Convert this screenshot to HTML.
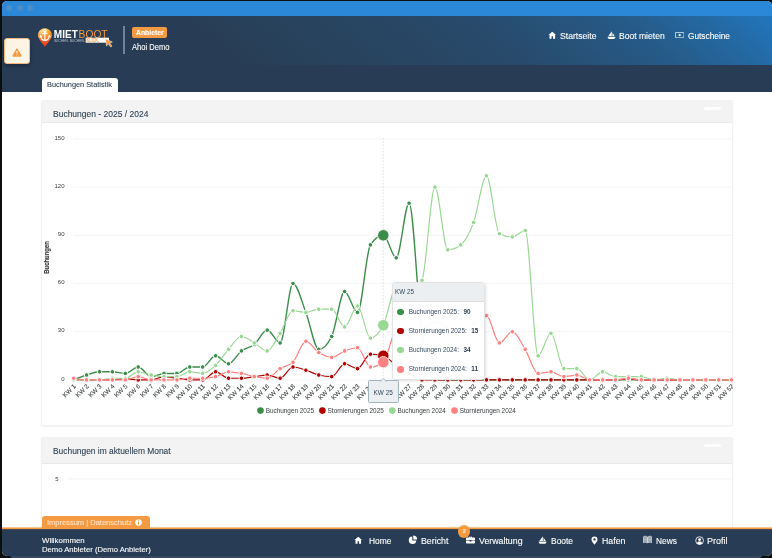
<!DOCTYPE html>
<html lang="de">
<head>
<meta charset="utf-8">
<title>Mietboot - Buchungen Statistik</title>
<style>
*{box-sizing:border-box;margin:0;padding:0}
html,body{width:772px;height:558px;overflow:hidden;background:#0d0e10}
body{font-family:"Liberation Sans",sans-serif;color:#2c3e50;position:relative}
.win{position:absolute;left:2px;top:1px;width:769.600px;height:555px;border-radius:5px;overflow:hidden;background:#fff;will-change:transform}
.abs{position:absolute}
.titlebar{left:0;top:0;width:770px;height:15px;background:#2b87d8}
.tl{width:6px;height:6px;border-radius:50%;background:#4a8fcb;top:4px}
.hdr{left:0;top:15px;width:770px;height:49px;background:linear-gradient(40deg,#283d55 0%,#283d55 28.7%,#28415a 36.7%,#284a6b 62.9%,#265a87 81%,#24679f 90.5%,#2274ba 99.2%)}
.strip{left:0;top:64px;width:770px;height:26.500px;background:#283d55}
  .tab{left:40px;top:77px;width:76px;height:14.600px;background:#fff;border-radius:3px 3px 0 0;font-size:7.4px;line-height:15px;text-align:center;color:#2c3e50;white-space:nowrap}
.txt{white-space:nowrap;line-height:1;-webkit-text-stroke:.1px currentColor}
.nav{color:#fff;font-size:8.4px}
.panel{left:39.400px;width:691.600px;background:#fff;border:1px solid #f2f2f2;border-radius:2px;box-shadow:0 1px 2px rgba(0,0,0,.05)}
.phead{left:0;top:0;width:690px;background:#f3f3f3;border-bottom:1px solid #e9e9e9}
.ptitle{font-size:9.3px;color:#2c3e50;left:11px}
.pill{width:17px;height:2.800px;border-radius:2px;background:#fff;left:661.700px}
.footer{left:0;top:527px;width:770px;height:29px;background:#283d55}
.fnav{color:#fff;font-size:8.6px}
svg text{font-family:"Liberation Sans",sans-serif}
.yl{font-size:6px;fill:#373d3f}
.yt{font-size:6.4px;font-weight:bold;fill:#373d3f;stroke:#373d3f;stroke-width:.15px}
.xl{font-size:6.4px;fill:#373d3f;stroke:#373d3f;stroke-width:.08px}
.lg{font-size:6.4px;fill:#373d3f}
  .tt{left:389.5px;top:280.900px;width:93.8px;height:98.200px;background:rgba(255,255,255,.96);border:1px solid #e3e3e3;border-radius:3px;box-shadow:1px 1px 4px -2px rgba(120,120,120,.6);overflow:hidden}
.tthead{left:0;top:0;width:94px;height:19px;background:#eceff1;border-bottom:1px solid #ddd;font-size:6.3px;line-height:18.600px;padding-left:2.500px;color:#34495e}
.ttrow{left:0;width:93px;height:7px;font-size:6.4px;color:#34495e}
.ttdot{left:4.900px;top:0;width:6.600px;height:6.600px;border-radius:50%}
.ttrow span{position:absolute;left:16.300px;top:0;line-height:6.600px;white-space:nowrap}
.ttrow b{margin-left:2.800px;color:#2c3e50}
.xtt{left:365.600px;top:379.400px;width:31.200px;height:22.400px;background:#eceff1;border:.8px solid #a3b3bc;border-radius:1.500px;font-size:6.400px;line-height:23.200px;text-align:center;color:#34495e}
</style>
</head>
<body>
<div class="abs" style="left:10px;top:555px;width:752px;height:3px;background:#34485e;border-radius:0 0 3px 3px"></div>
<div class="win">
  <div class="abs titlebar"></div>
  <div class="abs tl" style="left:4px"></div><div class="abs tl" style="left:15px"></div><div class="abs tl" style="left:25px"></div>

  <div class="abs hdr"></div>
  <div class="abs strip"></div>

  <!-- logo -->
  <svg class="abs" style="left:34px;top:22px" width="82" height="30" viewBox="0 0 82 30">
    <defs>
      <linearGradient id="lg1" x1="0" y1="0" x2="0" y2="1"><stop offset="0" stop-color="#fbb520"/><stop offset="0.45" stop-color="#f6861f"/><stop offset="0.8" stop-color="#ea4a26"/><stop offset="1" stop-color="#df2a2a"/></linearGradient>
      <radialGradient id="lg2" cx="0.32" cy="0.25" r="0.5"><stop offset="0" stop-color="#fff" stop-opacity=".55"/><stop offset="1" stop-color="#fff" stop-opacity="0"/></radialGradient>
    </defs>
    <path d="M8.9 24 L3.27 16.35 A7 7 0 1 1 14.53 16.35 Z" fill="url(#lg1)"/>
    <circle cx="8.9" cy="12.2" r="7" fill="url(#lg2)"/>
    <g stroke="#fff" stroke-width="1.15" fill="none" stroke-linecap="round" stroke-linejoin="round"><circle cx="8.9" cy="7.4" r="1.15"/><path d="M8.9 8.700V17.300M6.700 10.300h4.400M4.500 12.800c.5 2.900 2.300 4.500 4.400 4.500s3.900-1.600 4.400-4.500"/><path d="M3.500 14l1-1.600 1.300 1.300M14.300 14l-1-1.600-1.300 1.300" stroke-width=".9"/></g>
    <text x="17.8" y="14.600" font-size="11" font-weight="bold" fill="#fff" textLength="24" lengthAdjust="spacingAndGlyphs">MIET</text>
    <text x="42.600" y="14.600" font-size="11" fill="#f39a42" textLength="29" lengthAdjust="spacingAndGlyphs">BOOT</text>
    <text x="17.900" y="18.900" font-size="3.700" fill="#b9c4cf" textLength="30.900" lengthAdjust="spacingAndGlyphs">SUCHEN. BUCHEN.</text>
    <rect x="49.700" y="14.700" width="23.300" height="5" fill="#fff"/>
    <text x="50.500" y="19" font-size="5" font-weight="bold" fill="#f39a42" textLength="12.600" lengthAdjust="spacingAndGlyphs">KLICK.</text>
    <path d="M69.400 15.800l7 3.300-2.700.9 2.300 3.100-1.300 1-2.300-3.100-1.900 2.100z" fill="#f39a42" stroke="#fff" stroke-width=".45" stroke-linejoin="round"/>
  </svg>
  <div class="abs" style="left:121.200px;top:24.800px;width:1.400px;height:28px;background:#71839a"></div>
  <div class="abs" style="left:130px;top:26px;width:35px;height:11px;background:#f39a42;border-radius:2px"></div>
  <div class="abs txt" style="left:133.50px;top:28.40px;font-size:7.2px;color:#fff;font-weight:bold;transform:scaleX(0.9488);transform-origin:0 50%">Anbieter</div>
  <div class="abs txt" style="left:130.10px;top:42.00px;font-size:8.4px;color:#fff;transform:scaleX(0.9052);transform-origin:0 50%">Ahoi Demo</div>

  <!-- top nav -->
  <svg class="abs" style="left:545.600px;top:29.500px" width="8.600" height="8.600" viewBox="0 0 16 16"><path d="M8 1.2L.8 7.6h2V14.6h3.8V10h2.8v4.6h3.8V7.6h2z" fill="#fff"/></svg>
  <div class="abs txt" style="left:557.80px;top:31.00px;font-size:8.4px;color:#fff;transform:scaleX(1.0313);transform-origin:0 50%">Startseite</div>
  <svg class="abs" style="left:604.700px;top:29.900px" width="9" height="8.300" viewBox="0 0 18 17" preserveAspectRatio="none"><path d="M9.500.4V11H2.400zM10.800 3l4.900 8h-4.900zM.8 12.300h16.400l-2.600 4H3.400z" fill="#fff"/></svg>
  <div class="abs txt" style="left:617.20px;top:31.00px;font-size:8.4px;color:#fff;transform:scaleX(1.0220);transform-origin:0 50%">Boot mieten</div>
  <svg class="abs" style="left:673px;top:31px" width="9.400" height="6.200" viewBox="0 0 19 12.500"><rect x=".8" y=".8" width="17.400" height="10.900" rx="1.200" fill="none" stroke="#fff" stroke-width="1.500"/><circle cx="9.500" cy="6.250" r="2.300" fill="#fff"/></svg>
  <div class="abs txt" style="left:685.80px;top:31.00px;font-size:8.4px;color:#fff;transform:scaleX(0.9905);transform-origin:0 50%">Gutscheine</div>

  <!-- warning button -->
  <div class="abs" style="left:2.4px;top:37px;width:25.5px;height:25.5px;background:#fcf4e5;border:1px solid #f4b77d;border-radius:3px;box-shadow:0 2px 5px rgba(0,0,0,.32)"></div>
  <svg class="abs" style="left:10.400px;top:46.500px" width="10" height="9" viewBox="0 0 20 18"><path d="M10 1.2c.8 0 1.4.4 1.8 1.1l7 12.2c.8 1.4-.2 2.9-1.8 2.9H3c-1.600 0-2.600-1.500-1.800-2.900l7-12.200c.4-.7 1-1.100 1.800-1.100z" fill="#f39a42"/><rect x="9" y="5.600" width="2" height="6" rx=".8" fill="#fcf4e5"/><circle cx="10" cy="14" r="1.200" fill="#fcf4e5"/></svg>

  <div class="abs tab"></div>
  <div class="abs txt" style="left:45.20px;top:80.00px;font-size:7.6px;color:#2c3e50;transform:scaleX(0.9669);transform-origin:0 50%">Buchungen Statistik</div>

  <!-- panel 1 -->
  <div class="abs panel" style="top:99px;height:326px">
    <div class="abs phead" style="height:22px"></div>
    <div class="abs pill" style="top:6.200px"></div>
  </div>
  <!-- panel 2 -->
  <div class="abs panel" style="top:436px;height:120px">
    <div class="abs phead" style="height:25.800px"></div>
    <div class="abs pill" style="top:6.400px"></div>
  </div>

  <div class="abs txt" style="left:50.50px;top:108.50px;font-size:9px;color:#2c3e50;transform:scaleX(0.9439);transform-origin:0 50%">Buchungen - 2025 / 2024</div>
  <div class="abs txt" style="left:51.00px;top:445.50px;font-size:9px;color:#2c3e50;transform:scaleX(0.9327);transform-origin:0 50%">Buchungen im aktuellem Monat</div>
  <!-- chart svg in window coordinates shifted: svg placed so that its coords == page coords -->
  <svg class="abs" style="left:-2px;top:-1px" width="733" height="530" viewBox="0 0 733 530">
<line x1="73.5" x2="733" y1="138.95" y2="138.95" stroke="#f0f0f0" stroke-width="0.7"/>
<line x1="73.5" x2="733" y1="187.13" y2="187.13" stroke="#f0f0f0" stroke-width="0.7"/>
<line x1="73.5" x2="733" y1="235.31" y2="235.31" stroke="#f0f0f0" stroke-width="0.7"/>
<line x1="73.5" x2="733" y1="283.49" y2="283.49" stroke="#f0f0f0" stroke-width="0.7"/>
<line x1="73.5" x2="733" y1="331.67" y2="331.67" stroke="#f0f0f0" stroke-width="0.7"/>
<line x1="73.5" x2="733" y1="379.85" y2="379.85" stroke="#f0f0f0" stroke-width="0.7"/>
<line x1="383.3" x2="383.3" y1="138" y2="380" stroke="#cccccc" stroke-width="0.6" stroke-dasharray="1.6 1.6"/>
<text x="64.5" y="139.6" text-anchor="end" class="yl">150</text>
<text x="64.5" y="187.7" text-anchor="end" class="yl">120</text>
<text x="64.5" y="235.9" text-anchor="end" class="yl">90</text>
<text x="64.5" y="284.1" text-anchor="end" class="yl">60</text>
<text x="64.5" y="332.3" text-anchor="end" class="yl">30</text>
<text x="64.5" y="380.5" text-anchor="end" class="yl">0</text>
<text transform="translate(49.1 257.4) rotate(-90)" text-anchor="middle" class="yt" textLength="32.6" lengthAdjust="spacingAndGlyphs">Buchungen</text>
<text transform="translate(76.3 386.8) rotate(-45)" text-anchor="end" class="xl">KW 1</text>
<text transform="translate(89.2 386.8) rotate(-45)" text-anchor="end" class="xl">KW 2</text>
<text transform="translate(102.1 386.8) rotate(-45)" text-anchor="end" class="xl">KW 3</text>
<text transform="translate(115.0 386.8) rotate(-45)" text-anchor="end" class="xl">KW 4</text>
<text transform="translate(127.9 386.8) rotate(-45)" text-anchor="end" class="xl">KW 5</text>
<text transform="translate(140.8 386.8) rotate(-45)" text-anchor="end" class="xl">KW 6</text>
<text transform="translate(153.7 386.8) rotate(-45)" text-anchor="end" class="xl">KW 7</text>
<text transform="translate(166.6 386.8) rotate(-45)" text-anchor="end" class="xl">KW 8</text>
<text transform="translate(179.5 386.8) rotate(-45)" text-anchor="end" class="xl">KW 9</text>
<text transform="translate(192.4 386.8) rotate(-45)" text-anchor="end" class="xl">KW 10</text>
<text transform="translate(205.3 386.8) rotate(-45)" text-anchor="end" class="xl">KW 11</text>
<text transform="translate(218.2 386.8) rotate(-45)" text-anchor="end" class="xl">KW 12</text>
<text transform="translate(231.1 386.8) rotate(-45)" text-anchor="end" class="xl">KW 13</text>
<text transform="translate(244.0 386.8) rotate(-45)" text-anchor="end" class="xl">KW 14</text>
<text transform="translate(256.9 386.8) rotate(-45)" text-anchor="end" class="xl">KW 15</text>
<text transform="translate(269.8 386.8) rotate(-45)" text-anchor="end" class="xl">KW 16</text>
<text transform="translate(282.7 386.8) rotate(-45)" text-anchor="end" class="xl">KW 17</text>
<text transform="translate(295.6 386.8) rotate(-45)" text-anchor="end" class="xl">KW 18</text>
<text transform="translate(308.5 386.8) rotate(-45)" text-anchor="end" class="xl">KW 19</text>
<text transform="translate(321.4 386.8) rotate(-45)" text-anchor="end" class="xl">KW 20</text>
<text transform="translate(334.3 386.8) rotate(-45)" text-anchor="end" class="xl">KW 21</text>
<text transform="translate(347.2 386.8) rotate(-45)" text-anchor="end" class="xl">KW 22</text>
<text transform="translate(360.1 386.8) rotate(-45)" text-anchor="end" class="xl">KW 23</text>
<text transform="translate(373.0 386.8) rotate(-45)" text-anchor="end" class="xl">KW 24</text>
<text transform="translate(385.9 386.8) rotate(-45)" text-anchor="end" class="xl">KW 25</text>
<text transform="translate(398.8 386.8) rotate(-45)" text-anchor="end" class="xl">KW 26</text>
<text transform="translate(411.7 386.8) rotate(-45)" text-anchor="end" class="xl">KW 27</text>
<text transform="translate(424.6 386.8) rotate(-45)" text-anchor="end" class="xl">KW 28</text>
<text transform="translate(437.5 386.8) rotate(-45)" text-anchor="end" class="xl">KW 29</text>
<text transform="translate(450.4 386.8) rotate(-45)" text-anchor="end" class="xl">KW 30</text>
<text transform="translate(463.3 386.8) rotate(-45)" text-anchor="end" class="xl">KW 31</text>
<text transform="translate(476.2 386.8) rotate(-45)" text-anchor="end" class="xl">KW 32</text>
<text transform="translate(489.1 386.8) rotate(-45)" text-anchor="end" class="xl">KW 33</text>
<text transform="translate(502.0 386.8) rotate(-45)" text-anchor="end" class="xl">KW 34</text>
<text transform="translate(514.9 386.8) rotate(-45)" text-anchor="end" class="xl">KW 35</text>
<text transform="translate(527.8 386.8) rotate(-45)" text-anchor="end" class="xl">KW 36</text>
<text transform="translate(540.7 386.8) rotate(-45)" text-anchor="end" class="xl">KW 37</text>
<text transform="translate(553.6 386.8) rotate(-45)" text-anchor="end" class="xl">KW 38</text>
<text transform="translate(566.5 386.8) rotate(-45)" text-anchor="end" class="xl">KW 39</text>
<text transform="translate(579.4 386.8) rotate(-45)" text-anchor="end" class="xl">KW 40</text>
<text transform="translate(592.3 386.8) rotate(-45)" text-anchor="end" class="xl">KW 41</text>
<text transform="translate(605.2 386.8) rotate(-45)" text-anchor="end" class="xl">KW 42</text>
<text transform="translate(618.1 386.8) rotate(-45)" text-anchor="end" class="xl">KW 43</text>
<text transform="translate(631.0 386.8) rotate(-45)" text-anchor="end" class="xl">KW 44</text>
<text transform="translate(643.9 386.8) rotate(-45)" text-anchor="end" class="xl">KW 45</text>
<text transform="translate(656.8 386.8) rotate(-45)" text-anchor="end" class="xl">KW 46</text>
<text transform="translate(669.7 386.8) rotate(-45)" text-anchor="end" class="xl">KW 47</text>
<text transform="translate(682.6 386.8) rotate(-45)" text-anchor="end" class="xl">KW 48</text>
<text transform="translate(695.5 386.8) rotate(-45)" text-anchor="end" class="xl">KW 49</text>
<text transform="translate(708.4 386.8) rotate(-45)" text-anchor="end" class="xl">KW 50</text>
<text transform="translate(721.3 386.8) rotate(-45)" text-anchor="end" class="xl">KW 51</text>
<text transform="translate(734.2 386.8) rotate(-45)" text-anchor="end" class="xl">KW 52</text>
<path d="M73.70 379.85C78.00 378.11 82.30 376.37 86.60 375.03C90.90 373.69 95.20 371.82 99.50 371.82C103.80 371.82 108.10 371.82 112.40 371.82C116.70 371.82 121.00 373.43 125.30 373.43C129.60 373.43 133.90 367.00 138.20 367.00C142.50 367.00 146.80 376.64 151.10 376.64C155.40 376.64 159.70 373.43 164.00 373.43C168.30 373.43 172.60 373.43 176.90 373.43C181.20 373.43 185.50 367.00 189.80 367.00C194.10 367.00 198.40 367.00 202.70 367.00C207.00 367.00 211.30 355.76 215.60 355.76C219.90 355.76 224.20 363.79 228.50 363.79C232.80 363.79 237.10 354.15 241.40 350.94C245.70 347.73 250.00 348.00 254.30 344.52C258.60 341.04 262.90 330.06 267.20 330.06C271.50 330.06 275.80 342.91 280.10 342.91C284.40 342.91 288.70 283.49 293.00 283.49C297.30 283.49 301.60 301.42 305.90 312.40C310.20 323.37 314.50 349.34 318.80 349.34C323.10 349.34 327.40 345.05 331.70 336.49C336.00 327.92 340.30 291.52 344.60 291.52C348.90 291.52 353.20 312.40 357.50 312.40C361.80 312.40 366.10 251.37 370.40 244.95C374.70 238.52 379.00 235.31 383.30 235.31C387.60 235.31 391.90 257.79 396.20 257.79C400.50 257.79 404.80 203.19 409.10 203.19C413.40 203.19 417.70 305.44 422.00 334.88C426.30 364.33 430.60 379.85 434.90 379.85C439.20 379.85 443.50 379.85 447.80 379.85C452.10 379.85 456.40 379.85 460.70 379.85C465.00 379.85 469.30 379.85 473.60 379.85C477.90 379.85 482.20 379.85 486.50 379.85C490.80 379.85 495.10 379.85 499.40 379.85C503.70 379.85 508.00 379.85 512.30 379.85C516.60 379.85 520.90 379.85 525.20 379.85C529.50 379.85 533.80 379.85 538.10 379.85C542.40 379.85 546.70 379.85 551.00 379.85C555.30 379.85 559.60 379.85 563.90 379.85C568.20 379.85 572.50 379.85 576.80 379.85C581.10 379.85 585.40 379.85 589.70 379.85C594.00 379.85 598.30 379.85 602.60 379.85C606.90 379.85 611.20 379.85 615.50 379.85C619.80 379.85 624.10 379.85 628.40 379.85C632.70 379.85 637.00 379.85 641.30 379.85C645.60 379.85 649.90 379.85 654.20 379.85C658.50 379.85 662.80 379.85 667.10 379.85C671.40 379.85 675.70 379.85 680.00 379.85C684.30 379.85 688.60 379.85 692.90 379.85C697.20 379.85 701.50 379.85 705.80 379.85C710.10 379.85 714.40 379.85 718.70 379.85C723.00 379.85 727.30 379.85 731.60 379.85" fill="none" stroke="#3c8d4a" stroke-width="1.40" stroke-linecap="butt"/>
<path d="M73.70 379.85C78.00 379.85 82.30 379.85 86.60 379.85C90.90 379.85 95.20 379.85 99.50 379.85C103.80 379.85 108.10 379.85 112.40 379.85C116.70 379.85 121.00 378.89 125.30 378.89C129.60 378.89 133.90 379.85 138.20 379.85C142.50 379.85 146.80 379.85 151.10 379.85C155.40 379.85 159.70 376.64 164.00 376.64C168.30 376.64 172.60 377.71 176.90 378.24C181.20 378.78 185.50 379.85 189.80 379.85C194.10 379.85 198.40 379.85 202.70 379.85C207.00 379.85 211.30 371.82 215.60 371.82C219.90 371.82 224.20 378.24 228.50 378.24C232.80 378.24 237.10 378.24 241.40 378.24C245.70 378.24 250.00 377.17 254.30 376.64C258.60 376.10 262.90 375.03 267.20 375.03C271.50 375.03 275.80 378.24 280.10 378.24C284.40 378.24 288.70 367.00 293.00 367.00C297.30 367.00 301.60 368.88 305.90 370.21C310.20 371.55 314.50 373.96 318.80 375.03C323.10 376.10 327.40 376.64 331.70 376.64C336.00 376.64 340.30 363.79 344.60 363.79C348.90 363.79 353.20 368.61 357.50 368.61C361.80 368.61 366.10 354.15 370.40 354.15C374.70 354.15 379.00 354.69 383.30 355.76C387.60 356.83 391.90 362.45 396.20 365.40C400.50 368.34 404.80 371.02 409.10 373.43C413.40 375.84 417.70 379.85 422.00 379.85C426.30 379.85 430.60 379.85 434.90 379.85C439.20 379.85 443.50 379.85 447.80 379.85C452.10 379.85 456.40 379.85 460.70 379.85C465.00 379.85 469.30 379.85 473.60 379.85C477.90 379.85 482.20 379.85 486.50 379.85C490.80 379.85 495.10 379.85 499.40 379.85C503.70 379.85 508.00 379.85 512.30 379.85C516.60 379.85 520.90 379.85 525.20 379.85C529.50 379.85 533.80 379.85 538.10 379.85C542.40 379.85 546.70 379.85 551.00 379.85C555.30 379.85 559.60 379.85 563.90 379.85C568.20 379.85 572.50 379.85 576.80 379.85C581.10 379.85 585.40 379.85 589.70 379.85C594.00 379.85 598.30 379.85 602.60 379.85C606.90 379.85 611.20 379.85 615.50 379.85C619.80 379.85 624.10 378.73 628.40 378.73C632.70 378.73 637.00 379.85 641.30 379.85C645.60 379.85 649.90 379.85 654.20 379.85C658.50 379.85 662.80 379.85 667.10 379.85C671.40 379.85 675.70 379.85 680.00 379.85C684.30 379.85 688.60 379.85 692.90 379.85C697.20 379.85 701.50 379.85 705.80 379.85C710.10 379.85 714.40 379.85 718.70 379.85C723.00 379.85 727.30 379.85 731.60 379.85" fill="none" stroke="#b00000" stroke-width="1.20" stroke-linecap="butt"/>
<path d="M73.70 379.85C78.00 379.85 82.30 379.85 86.60 379.85C90.90 379.85 95.20 379.85 99.50 379.85C103.80 379.85 108.10 378.24 112.40 378.24C116.70 378.24 121.00 378.24 125.30 378.24C129.60 378.24 133.90 371.82 138.20 371.82C142.50 371.82 146.80 374.23 151.10 375.03C155.40 375.84 159.70 376.64 164.00 376.64C168.30 376.64 172.60 376.64 176.90 376.64C181.20 376.64 185.50 371.82 189.80 371.82C194.10 371.82 198.40 373.43 202.70 373.43C207.00 373.43 211.30 369.41 215.60 365.40C219.90 361.38 224.20 354.15 228.50 349.34C232.80 344.52 237.10 336.49 241.40 336.49C245.70 336.49 250.00 340.50 254.30 342.91C258.60 345.32 262.90 350.94 267.20 350.94C271.50 350.94 275.80 339.97 280.10 333.28C284.40 326.58 288.70 310.79 293.00 310.79C297.30 310.79 301.60 312.40 305.90 312.40C310.20 312.40 314.50 309.19 318.80 309.19C323.10 309.19 327.40 309.19 331.70 309.19C336.00 309.19 340.30 326.85 344.60 326.85C348.90 326.85 353.20 305.97 357.50 305.97C361.80 305.97 366.10 338.09 370.40 338.09C374.70 338.09 379.00 333.54 383.30 325.25C387.60 316.95 391.90 288.31 396.20 288.31C400.50 288.31 404.80 293.13 409.10 293.13C413.40 293.13 417.70 288.84 422.00 280.28C426.30 271.71 430.60 187.13 434.90 187.13C439.20 187.13 443.50 249.76 447.80 249.76C452.10 249.76 456.40 248.16 460.70 244.95C465.00 241.73 469.30 233.97 473.60 222.46C477.90 210.95 482.20 175.89 486.50 175.89C490.80 175.89 495.10 231.56 499.40 233.70C503.70 235.85 508.00 236.92 512.30 236.92C516.60 236.92 520.90 230.49 525.20 230.49C529.50 230.49 533.80 355.76 538.10 355.76C542.40 355.76 546.70 333.28 551.00 333.28C555.30 333.28 559.60 368.61 563.90 368.61C568.20 368.61 572.50 368.61 576.80 368.61C581.10 368.61 585.40 379.85 589.70 379.85C594.00 379.85 598.30 371.82 602.60 371.82C606.90 371.82 611.20 376.64 615.50 376.64C619.80 376.64 624.10 376.64 628.40 376.64C632.70 376.64 637.00 376.64 641.30 376.64C645.60 376.64 649.90 379.85 654.20 379.85C658.50 379.85 662.80 378.24 667.10 378.24C671.40 378.24 675.70 379.85 680.00 379.85C684.30 379.85 688.60 379.85 692.90 379.85C697.20 379.85 701.50 379.85 705.80 379.85C710.10 379.85 714.40 379.85 718.70 379.85C723.00 379.85 727.30 379.85 731.60 379.85" fill="none" stroke="#98d892" stroke-width="1.15" stroke-linecap="butt"/>
<path d="M73.70 378.24C78.00 379.05 82.30 379.85 86.60 379.85C90.90 379.85 95.20 379.85 99.50 379.85C103.80 379.85 108.10 379.85 112.40 379.85C116.70 379.85 121.00 379.85 125.30 379.85C129.60 379.85 133.90 376.64 138.20 376.64C142.50 376.64 146.80 379.85 151.10 379.85C155.40 379.85 159.70 379.85 164.00 379.85C168.30 379.85 172.60 379.85 176.90 379.85C181.20 379.85 185.50 378.24 189.80 378.24C194.10 378.24 198.40 378.24 202.70 378.24C207.00 378.24 211.30 377.71 215.60 376.64C219.90 375.57 224.20 371.82 228.50 371.82C232.80 371.82 237.10 372.62 241.40 373.43C245.70 374.23 250.00 375.84 254.30 376.64C258.60 377.44 262.90 378.24 267.20 378.24C271.50 378.24 275.80 371.28 280.10 368.61C284.40 365.93 288.70 366.47 293.00 362.18C297.30 357.90 301.60 341.31 305.90 341.31C310.20 341.31 314.50 349.87 318.80 352.55C323.10 355.22 327.40 357.37 331.70 357.37C336.00 357.37 340.30 352.55 344.60 350.94C348.90 349.34 353.20 347.73 357.50 347.73C361.80 347.73 366.10 367.00 370.40 367.00C374.70 367.00 379.00 365.40 383.30 362.18C387.60 358.97 391.90 331.67 396.20 331.67C400.50 331.67 404.80 338.09 409.10 338.09C413.40 338.09 417.70 332.74 422.00 330.06C426.30 327.39 430.60 322.03 434.90 322.03C439.20 322.03 443.50 325.25 447.80 326.85C452.10 328.46 456.40 331.67 460.70 331.67C465.00 331.67 469.30 326.32 473.60 323.64C477.90 320.96 482.20 315.61 486.50 315.61C490.80 315.61 495.10 342.91 499.40 342.91C503.70 342.91 508.00 331.67 512.30 331.67C516.60 331.67 520.90 342.38 525.20 349.34C529.50 356.30 533.80 373.43 538.10 373.43C542.40 373.43 546.70 371.82 551.00 371.82C555.30 371.82 559.60 376.64 563.90 376.64C568.20 376.64 572.50 375.03 576.80 375.03C581.10 375.03 585.40 379.85 589.70 379.85C594.00 379.85 598.30 379.85 602.60 379.85C606.90 379.85 611.20 379.85 615.50 379.85C619.80 379.85 624.10 378.24 628.40 378.24C632.70 378.24 637.00 379.85 641.30 379.85C645.60 379.85 649.90 379.85 654.20 379.85C658.50 379.85 662.80 379.85 667.10 379.85C671.40 379.85 675.70 379.85 680.00 379.85C684.30 379.85 688.60 379.85 692.90 379.85C697.20 379.85 701.50 379.85 705.80 379.85C710.10 379.85 714.40 379.85 718.70 379.85C723.00 379.85 727.30 379.85 731.60 379.85" fill="none" stroke="#ff8080" stroke-width="1.20" stroke-linecap="butt"/>
<circle cx="73.7" cy="379.9" r="2.30" fill="#3c8d4a" stroke="#fff" stroke-width="1.0"/>
<circle cx="86.6" cy="375.0" r="2.30" fill="#3c8d4a" stroke="#fff" stroke-width="1.0"/>
<circle cx="99.5" cy="371.8" r="2.30" fill="#3c8d4a" stroke="#fff" stroke-width="1.0"/>
<circle cx="112.4" cy="371.8" r="2.30" fill="#3c8d4a" stroke="#fff" stroke-width="1.0"/>
<circle cx="125.3" cy="373.4" r="2.30" fill="#3c8d4a" stroke="#fff" stroke-width="1.0"/>
<circle cx="138.2" cy="367.0" r="2.30" fill="#3c8d4a" stroke="#fff" stroke-width="1.0"/>
<circle cx="151.1" cy="376.6" r="2.30" fill="#3c8d4a" stroke="#fff" stroke-width="1.0"/>
<circle cx="164.0" cy="373.4" r="2.30" fill="#3c8d4a" stroke="#fff" stroke-width="1.0"/>
<circle cx="176.9" cy="373.4" r="2.30" fill="#3c8d4a" stroke="#fff" stroke-width="1.0"/>
<circle cx="189.8" cy="367.0" r="2.30" fill="#3c8d4a" stroke="#fff" stroke-width="1.0"/>
<circle cx="202.7" cy="367.0" r="2.30" fill="#3c8d4a" stroke="#fff" stroke-width="1.0"/>
<circle cx="215.6" cy="355.8" r="2.30" fill="#3c8d4a" stroke="#fff" stroke-width="1.0"/>
<circle cx="228.5" cy="363.8" r="2.30" fill="#3c8d4a" stroke="#fff" stroke-width="1.0"/>
<circle cx="241.4" cy="350.9" r="2.30" fill="#3c8d4a" stroke="#fff" stroke-width="1.0"/>
<circle cx="254.3" cy="344.5" r="2.30" fill="#3c8d4a" stroke="#fff" stroke-width="1.0"/>
<circle cx="267.2" cy="330.1" r="2.30" fill="#3c8d4a" stroke="#fff" stroke-width="1.0"/>
<circle cx="280.1" cy="342.9" r="2.30" fill="#3c8d4a" stroke="#fff" stroke-width="1.0"/>
<circle cx="293.0" cy="283.5" r="2.30" fill="#3c8d4a" stroke="#fff" stroke-width="1.0"/>
<circle cx="305.9" cy="312.4" r="2.30" fill="#3c8d4a" stroke="#fff" stroke-width="1.0"/>
<circle cx="318.8" cy="349.3" r="2.30" fill="#3c8d4a" stroke="#fff" stroke-width="1.0"/>
<circle cx="331.7" cy="336.5" r="2.30" fill="#3c8d4a" stroke="#fff" stroke-width="1.0"/>
<circle cx="344.6" cy="291.5" r="2.30" fill="#3c8d4a" stroke="#fff" stroke-width="1.0"/>
<circle cx="357.5" cy="312.4" r="2.30" fill="#3c8d4a" stroke="#fff" stroke-width="1.0"/>
<circle cx="370.4" cy="244.9" r="2.30" fill="#3c8d4a" stroke="#fff" stroke-width="1.0"/>
<circle cx="383.3" cy="235.3" r="5.70" fill="#3c8d4a" stroke="#fff" stroke-width="0.8"/>
<circle cx="396.2" cy="257.8" r="2.30" fill="#3c8d4a" stroke="#fff" stroke-width="1.0"/>
<circle cx="409.1" cy="203.2" r="2.30" fill="#3c8d4a" stroke="#fff" stroke-width="1.0"/>
<circle cx="422.0" cy="334.9" r="2.30" fill="#3c8d4a" stroke="#fff" stroke-width="1.0"/>
<circle cx="434.9" cy="379.9" r="2.30" fill="#3c8d4a" stroke="#fff" stroke-width="1.0"/>
<circle cx="447.8" cy="379.9" r="2.30" fill="#3c8d4a" stroke="#fff" stroke-width="1.0"/>
<circle cx="460.7" cy="379.9" r="2.30" fill="#3c8d4a" stroke="#fff" stroke-width="1.0"/>
<circle cx="473.6" cy="379.9" r="2.30" fill="#3c8d4a" stroke="#fff" stroke-width="1.0"/>
<circle cx="486.5" cy="379.9" r="2.30" fill="#3c8d4a" stroke="#fff" stroke-width="1.0"/>
<circle cx="499.4" cy="379.9" r="2.30" fill="#3c8d4a" stroke="#fff" stroke-width="1.0"/>
<circle cx="512.3" cy="379.9" r="2.30" fill="#3c8d4a" stroke="#fff" stroke-width="1.0"/>
<circle cx="525.2" cy="379.9" r="2.30" fill="#3c8d4a" stroke="#fff" stroke-width="1.0"/>
<circle cx="538.1" cy="379.9" r="2.30" fill="#3c8d4a" stroke="#fff" stroke-width="1.0"/>
<circle cx="551.0" cy="379.9" r="2.30" fill="#3c8d4a" stroke="#fff" stroke-width="1.0"/>
<circle cx="563.9" cy="379.9" r="2.30" fill="#3c8d4a" stroke="#fff" stroke-width="1.0"/>
<circle cx="576.8" cy="379.9" r="2.30" fill="#3c8d4a" stroke="#fff" stroke-width="1.0"/>
<circle cx="589.7" cy="379.9" r="2.30" fill="#3c8d4a" stroke="#fff" stroke-width="1.0"/>
<circle cx="602.6" cy="379.9" r="2.30" fill="#3c8d4a" stroke="#fff" stroke-width="1.0"/>
<circle cx="615.5" cy="379.9" r="2.30" fill="#3c8d4a" stroke="#fff" stroke-width="1.0"/>
<circle cx="628.4" cy="379.9" r="2.30" fill="#3c8d4a" stroke="#fff" stroke-width="1.0"/>
<circle cx="641.3" cy="379.9" r="2.30" fill="#3c8d4a" stroke="#fff" stroke-width="1.0"/>
<circle cx="654.2" cy="379.9" r="2.30" fill="#3c8d4a" stroke="#fff" stroke-width="1.0"/>
<circle cx="667.1" cy="379.9" r="2.30" fill="#3c8d4a" stroke="#fff" stroke-width="1.0"/>
<circle cx="680.0" cy="379.9" r="2.30" fill="#3c8d4a" stroke="#fff" stroke-width="1.0"/>
<circle cx="692.9" cy="379.9" r="2.30" fill="#3c8d4a" stroke="#fff" stroke-width="1.0"/>
<circle cx="705.8" cy="379.9" r="2.30" fill="#3c8d4a" stroke="#fff" stroke-width="1.0"/>
<circle cx="718.7" cy="379.9" r="2.30" fill="#3c8d4a" stroke="#fff" stroke-width="1.0"/>
<circle cx="731.6" cy="379.9" r="2.30" fill="#3c8d4a" stroke="#fff" stroke-width="1.0"/>
<circle cx="73.7" cy="379.9" r="2.30" fill="#b00000" stroke="#fff" stroke-width="1.0"/>
<circle cx="86.6" cy="379.9" r="2.30" fill="#b00000" stroke="#fff" stroke-width="1.0"/>
<circle cx="99.5" cy="379.9" r="2.30" fill="#b00000" stroke="#fff" stroke-width="1.0"/>
<circle cx="112.4" cy="379.9" r="2.30" fill="#b00000" stroke="#fff" stroke-width="1.0"/>
<circle cx="125.3" cy="378.9" r="2.30" fill="#b00000" stroke="#fff" stroke-width="1.0"/>
<circle cx="138.2" cy="379.9" r="2.30" fill="#b00000" stroke="#fff" stroke-width="1.0"/>
<circle cx="151.1" cy="379.9" r="2.30" fill="#b00000" stroke="#fff" stroke-width="1.0"/>
<circle cx="164.0" cy="376.6" r="2.30" fill="#b00000" stroke="#fff" stroke-width="1.0"/>
<circle cx="176.9" cy="378.2" r="2.30" fill="#b00000" stroke="#fff" stroke-width="1.0"/>
<circle cx="189.8" cy="379.9" r="2.30" fill="#b00000" stroke="#fff" stroke-width="1.0"/>
<circle cx="202.7" cy="379.9" r="2.30" fill="#b00000" stroke="#fff" stroke-width="1.0"/>
<circle cx="215.6" cy="371.8" r="2.30" fill="#b00000" stroke="#fff" stroke-width="1.0"/>
<circle cx="228.5" cy="378.2" r="2.30" fill="#b00000" stroke="#fff" stroke-width="1.0"/>
<circle cx="241.4" cy="378.2" r="2.30" fill="#b00000" stroke="#fff" stroke-width="1.0"/>
<circle cx="254.3" cy="376.6" r="2.30" fill="#b00000" stroke="#fff" stroke-width="1.0"/>
<circle cx="267.2" cy="375.0" r="2.30" fill="#b00000" stroke="#fff" stroke-width="1.0"/>
<circle cx="280.1" cy="378.2" r="2.30" fill="#b00000" stroke="#fff" stroke-width="1.0"/>
<circle cx="293.0" cy="367.0" r="2.30" fill="#b00000" stroke="#fff" stroke-width="1.0"/>
<circle cx="305.9" cy="370.2" r="2.30" fill="#b00000" stroke="#fff" stroke-width="1.0"/>
<circle cx="318.8" cy="375.0" r="2.30" fill="#b00000" stroke="#fff" stroke-width="1.0"/>
<circle cx="331.7" cy="376.6" r="2.30" fill="#b00000" stroke="#fff" stroke-width="1.0"/>
<circle cx="344.6" cy="363.8" r="2.30" fill="#b00000" stroke="#fff" stroke-width="1.0"/>
<circle cx="357.5" cy="368.6" r="2.30" fill="#b00000" stroke="#fff" stroke-width="1.0"/>
<circle cx="370.4" cy="354.2" r="2.30" fill="#b00000" stroke="#fff" stroke-width="1.0"/>
<circle cx="383.3" cy="355.8" r="5.70" fill="#b00000" stroke="#fff" stroke-width="0.8"/>
<circle cx="396.2" cy="365.4" r="2.30" fill="#b00000" stroke="#fff" stroke-width="1.0"/>
<circle cx="409.1" cy="373.4" r="2.30" fill="#b00000" stroke="#fff" stroke-width="1.0"/>
<circle cx="422.0" cy="379.9" r="2.30" fill="#b00000" stroke="#fff" stroke-width="1.0"/>
<circle cx="434.9" cy="379.9" r="2.30" fill="#b00000" stroke="#fff" stroke-width="1.0"/>
<circle cx="447.8" cy="379.9" r="2.30" fill="#b00000" stroke="#fff" stroke-width="1.0"/>
<circle cx="460.7" cy="379.9" r="2.30" fill="#b00000" stroke="#fff" stroke-width="1.0"/>
<circle cx="473.6" cy="379.9" r="2.30" fill="#b00000" stroke="#fff" stroke-width="1.0"/>
<circle cx="486.5" cy="379.9" r="2.30" fill="#b00000" stroke="#fff" stroke-width="1.0"/>
<circle cx="499.4" cy="379.9" r="2.30" fill="#b00000" stroke="#fff" stroke-width="1.0"/>
<circle cx="512.3" cy="379.9" r="2.30" fill="#b00000" stroke="#fff" stroke-width="1.0"/>
<circle cx="525.2" cy="379.9" r="2.30" fill="#b00000" stroke="#fff" stroke-width="1.0"/>
<circle cx="538.1" cy="379.9" r="2.30" fill="#b00000" stroke="#fff" stroke-width="1.0"/>
<circle cx="551.0" cy="379.9" r="2.30" fill="#b00000" stroke="#fff" stroke-width="1.0"/>
<circle cx="563.9" cy="379.9" r="2.30" fill="#b00000" stroke="#fff" stroke-width="1.0"/>
<circle cx="576.8" cy="379.9" r="2.30" fill="#b00000" stroke="#fff" stroke-width="1.0"/>
<circle cx="589.7" cy="379.9" r="2.30" fill="#b00000" stroke="#fff" stroke-width="1.0"/>
<circle cx="602.6" cy="379.9" r="2.30" fill="#b00000" stroke="#fff" stroke-width="1.0"/>
<circle cx="615.5" cy="379.9" r="2.30" fill="#b00000" stroke="#fff" stroke-width="1.0"/>
<circle cx="628.4" cy="378.7" r="2.30" fill="#b00000" stroke="#fff" stroke-width="1.0"/>
<circle cx="641.3" cy="379.9" r="2.30" fill="#b00000" stroke="#fff" stroke-width="1.0"/>
<circle cx="654.2" cy="379.9" r="2.30" fill="#b00000" stroke="#fff" stroke-width="1.0"/>
<circle cx="667.1" cy="379.9" r="2.30" fill="#b00000" stroke="#fff" stroke-width="1.0"/>
<circle cx="680.0" cy="379.9" r="2.30" fill="#b00000" stroke="#fff" stroke-width="1.0"/>
<circle cx="692.9" cy="379.9" r="2.30" fill="#b00000" stroke="#fff" stroke-width="1.0"/>
<circle cx="705.8" cy="379.9" r="2.30" fill="#b00000" stroke="#fff" stroke-width="1.0"/>
<circle cx="718.7" cy="379.9" r="2.30" fill="#b00000" stroke="#fff" stroke-width="1.0"/>
<circle cx="731.6" cy="379.9" r="2.30" fill="#b00000" stroke="#fff" stroke-width="1.0"/>
<circle cx="73.7" cy="379.9" r="2.30" fill="#98d892" stroke="#fff" stroke-width="1.0"/>
<circle cx="86.6" cy="379.9" r="2.30" fill="#98d892" stroke="#fff" stroke-width="1.0"/>
<circle cx="99.5" cy="379.9" r="2.30" fill="#98d892" stroke="#fff" stroke-width="1.0"/>
<circle cx="112.4" cy="378.2" r="2.30" fill="#98d892" stroke="#fff" stroke-width="1.0"/>
<circle cx="125.3" cy="378.2" r="2.30" fill="#98d892" stroke="#fff" stroke-width="1.0"/>
<circle cx="138.2" cy="371.8" r="2.30" fill="#98d892" stroke="#fff" stroke-width="1.0"/>
<circle cx="151.1" cy="375.0" r="2.30" fill="#98d892" stroke="#fff" stroke-width="1.0"/>
<circle cx="164.0" cy="376.6" r="2.30" fill="#98d892" stroke="#fff" stroke-width="1.0"/>
<circle cx="176.9" cy="376.6" r="2.30" fill="#98d892" stroke="#fff" stroke-width="1.0"/>
<circle cx="189.8" cy="371.8" r="2.30" fill="#98d892" stroke="#fff" stroke-width="1.0"/>
<circle cx="202.7" cy="373.4" r="2.30" fill="#98d892" stroke="#fff" stroke-width="1.0"/>
<circle cx="215.6" cy="365.4" r="2.30" fill="#98d892" stroke="#fff" stroke-width="1.0"/>
<circle cx="228.5" cy="349.3" r="2.30" fill="#98d892" stroke="#fff" stroke-width="1.0"/>
<circle cx="241.4" cy="336.5" r="2.30" fill="#98d892" stroke="#fff" stroke-width="1.0"/>
<circle cx="254.3" cy="342.9" r="2.30" fill="#98d892" stroke="#fff" stroke-width="1.0"/>
<circle cx="267.2" cy="350.9" r="2.30" fill="#98d892" stroke="#fff" stroke-width="1.0"/>
<circle cx="280.1" cy="333.3" r="2.30" fill="#98d892" stroke="#fff" stroke-width="1.0"/>
<circle cx="293.0" cy="310.8" r="2.30" fill="#98d892" stroke="#fff" stroke-width="1.0"/>
<circle cx="305.9" cy="312.4" r="2.30" fill="#98d892" stroke="#fff" stroke-width="1.0"/>
<circle cx="318.8" cy="309.2" r="2.30" fill="#98d892" stroke="#fff" stroke-width="1.0"/>
<circle cx="331.7" cy="309.2" r="2.30" fill="#98d892" stroke="#fff" stroke-width="1.0"/>
<circle cx="344.6" cy="326.9" r="2.30" fill="#98d892" stroke="#fff" stroke-width="1.0"/>
<circle cx="357.5" cy="306.0" r="2.30" fill="#98d892" stroke="#fff" stroke-width="1.0"/>
<circle cx="370.4" cy="338.1" r="2.30" fill="#98d892" stroke="#fff" stroke-width="1.0"/>
<circle cx="383.3" cy="325.2" r="5.70" fill="#98d892" stroke="#fff" stroke-width="0.8"/>
<circle cx="396.2" cy="288.3" r="2.30" fill="#98d892" stroke="#fff" stroke-width="1.0"/>
<circle cx="409.1" cy="293.1" r="2.30" fill="#98d892" stroke="#fff" stroke-width="1.0"/>
<circle cx="422.0" cy="280.3" r="2.30" fill="#98d892" stroke="#fff" stroke-width="1.0"/>
<circle cx="434.9" cy="187.1" r="2.30" fill="#98d892" stroke="#fff" stroke-width="1.0"/>
<circle cx="447.8" cy="249.8" r="2.30" fill="#98d892" stroke="#fff" stroke-width="1.0"/>
<circle cx="460.7" cy="244.9" r="2.30" fill="#98d892" stroke="#fff" stroke-width="1.0"/>
<circle cx="473.6" cy="222.5" r="2.30" fill="#98d892" stroke="#fff" stroke-width="1.0"/>
<circle cx="486.5" cy="175.9" r="2.30" fill="#98d892" stroke="#fff" stroke-width="1.0"/>
<circle cx="499.4" cy="233.7" r="2.30" fill="#98d892" stroke="#fff" stroke-width="1.0"/>
<circle cx="512.3" cy="236.9" r="2.30" fill="#98d892" stroke="#fff" stroke-width="1.0"/>
<circle cx="525.2" cy="230.5" r="2.30" fill="#98d892" stroke="#fff" stroke-width="1.0"/>
<circle cx="538.1" cy="355.8" r="2.30" fill="#98d892" stroke="#fff" stroke-width="1.0"/>
<circle cx="551.0" cy="333.3" r="2.30" fill="#98d892" stroke="#fff" stroke-width="1.0"/>
<circle cx="563.9" cy="368.6" r="2.30" fill="#98d892" stroke="#fff" stroke-width="1.0"/>
<circle cx="576.8" cy="368.6" r="2.30" fill="#98d892" stroke="#fff" stroke-width="1.0"/>
<circle cx="589.7" cy="379.9" r="2.30" fill="#98d892" stroke="#fff" stroke-width="1.0"/>
<circle cx="602.6" cy="371.8" r="2.30" fill="#98d892" stroke="#fff" stroke-width="1.0"/>
<circle cx="615.5" cy="376.6" r="2.30" fill="#98d892" stroke="#fff" stroke-width="1.0"/>
<circle cx="628.4" cy="376.6" r="2.30" fill="#98d892" stroke="#fff" stroke-width="1.0"/>
<circle cx="641.3" cy="376.6" r="2.30" fill="#98d892" stroke="#fff" stroke-width="1.0"/>
<circle cx="654.2" cy="379.9" r="2.30" fill="#98d892" stroke="#fff" stroke-width="1.0"/>
<circle cx="667.1" cy="378.2" r="2.30" fill="#98d892" stroke="#fff" stroke-width="1.0"/>
<circle cx="680.0" cy="379.9" r="2.30" fill="#98d892" stroke="#fff" stroke-width="1.0"/>
<circle cx="692.9" cy="379.9" r="2.30" fill="#98d892" stroke="#fff" stroke-width="1.0"/>
<circle cx="705.8" cy="379.9" r="2.30" fill="#98d892" stroke="#fff" stroke-width="1.0"/>
<circle cx="718.7" cy="379.9" r="2.30" fill="#98d892" stroke="#fff" stroke-width="1.0"/>
<circle cx="731.6" cy="379.9" r="2.30" fill="#98d892" stroke="#fff" stroke-width="1.0"/>
<circle cx="73.7" cy="378.2" r="2.30" fill="#ff8080" stroke="#fff" stroke-width="1.0"/>
<circle cx="86.6" cy="379.9" r="2.30" fill="#ff8080" stroke="#fff" stroke-width="1.0"/>
<circle cx="99.5" cy="379.9" r="2.30" fill="#ff8080" stroke="#fff" stroke-width="1.0"/>
<circle cx="112.4" cy="379.9" r="2.30" fill="#ff8080" stroke="#fff" stroke-width="1.0"/>
<circle cx="125.3" cy="379.9" r="2.30" fill="#ff8080" stroke="#fff" stroke-width="1.0"/>
<circle cx="138.2" cy="376.6" r="2.30" fill="#ff8080" stroke="#fff" stroke-width="1.0"/>
<circle cx="151.1" cy="379.9" r="2.30" fill="#ff8080" stroke="#fff" stroke-width="1.0"/>
<circle cx="164.0" cy="379.9" r="2.30" fill="#ff8080" stroke="#fff" stroke-width="1.0"/>
<circle cx="176.9" cy="379.9" r="2.30" fill="#ff8080" stroke="#fff" stroke-width="1.0"/>
<circle cx="189.8" cy="378.2" r="2.30" fill="#ff8080" stroke="#fff" stroke-width="1.0"/>
<circle cx="202.7" cy="378.2" r="2.30" fill="#ff8080" stroke="#fff" stroke-width="1.0"/>
<circle cx="215.6" cy="376.6" r="2.30" fill="#ff8080" stroke="#fff" stroke-width="1.0"/>
<circle cx="228.5" cy="371.8" r="2.30" fill="#ff8080" stroke="#fff" stroke-width="1.0"/>
<circle cx="241.4" cy="373.4" r="2.30" fill="#ff8080" stroke="#fff" stroke-width="1.0"/>
<circle cx="254.3" cy="376.6" r="2.30" fill="#ff8080" stroke="#fff" stroke-width="1.0"/>
<circle cx="267.2" cy="378.2" r="2.30" fill="#ff8080" stroke="#fff" stroke-width="1.0"/>
<circle cx="280.1" cy="368.6" r="2.30" fill="#ff8080" stroke="#fff" stroke-width="1.0"/>
<circle cx="293.0" cy="362.2" r="2.30" fill="#ff8080" stroke="#fff" stroke-width="1.0"/>
<circle cx="305.9" cy="341.3" r="2.30" fill="#ff8080" stroke="#fff" stroke-width="1.0"/>
<circle cx="318.8" cy="352.5" r="2.30" fill="#ff8080" stroke="#fff" stroke-width="1.0"/>
<circle cx="331.7" cy="357.4" r="2.30" fill="#ff8080" stroke="#fff" stroke-width="1.0"/>
<circle cx="344.6" cy="350.9" r="2.30" fill="#ff8080" stroke="#fff" stroke-width="1.0"/>
<circle cx="357.5" cy="347.7" r="2.30" fill="#ff8080" stroke="#fff" stroke-width="1.0"/>
<circle cx="370.4" cy="367.0" r="2.30" fill="#ff8080" stroke="#fff" stroke-width="1.0"/>
<circle cx="383.3" cy="362.2" r="5.70" fill="#ff8080" stroke="#fff" stroke-width="0.8"/>
<circle cx="396.2" cy="331.7" r="2.30" fill="#ff8080" stroke="#fff" stroke-width="1.0"/>
<circle cx="409.1" cy="338.1" r="2.30" fill="#ff8080" stroke="#fff" stroke-width="1.0"/>
<circle cx="422.0" cy="330.1" r="2.30" fill="#ff8080" stroke="#fff" stroke-width="1.0"/>
<circle cx="434.9" cy="322.0" r="2.30" fill="#ff8080" stroke="#fff" stroke-width="1.0"/>
<circle cx="447.8" cy="326.9" r="2.30" fill="#ff8080" stroke="#fff" stroke-width="1.0"/>
<circle cx="460.7" cy="331.7" r="2.30" fill="#ff8080" stroke="#fff" stroke-width="1.0"/>
<circle cx="473.6" cy="323.6" r="2.30" fill="#ff8080" stroke="#fff" stroke-width="1.0"/>
<circle cx="486.5" cy="315.6" r="2.30" fill="#ff8080" stroke="#fff" stroke-width="1.0"/>
<circle cx="499.4" cy="342.9" r="2.30" fill="#ff8080" stroke="#fff" stroke-width="1.0"/>
<circle cx="512.3" cy="331.7" r="2.30" fill="#ff8080" stroke="#fff" stroke-width="1.0"/>
<circle cx="525.2" cy="349.3" r="2.30" fill="#ff8080" stroke="#fff" stroke-width="1.0"/>
<circle cx="538.1" cy="373.4" r="2.30" fill="#ff8080" stroke="#fff" stroke-width="1.0"/>
<circle cx="551.0" cy="371.8" r="2.30" fill="#ff8080" stroke="#fff" stroke-width="1.0"/>
<circle cx="563.9" cy="376.6" r="2.30" fill="#ff8080" stroke="#fff" stroke-width="1.0"/>
<circle cx="576.8" cy="375.0" r="2.30" fill="#ff8080" stroke="#fff" stroke-width="1.0"/>
<circle cx="589.7" cy="379.9" r="2.30" fill="#ff8080" stroke="#fff" stroke-width="1.0"/>
<circle cx="602.6" cy="379.9" r="2.30" fill="#ff8080" stroke="#fff" stroke-width="1.0"/>
<circle cx="615.5" cy="379.9" r="2.30" fill="#ff8080" stroke="#fff" stroke-width="1.0"/>
<circle cx="628.4" cy="378.2" r="2.30" fill="#ff8080" stroke="#fff" stroke-width="1.0"/>
<circle cx="641.3" cy="379.9" r="2.30" fill="#ff8080" stroke="#fff" stroke-width="1.0"/>
<circle cx="654.2" cy="379.9" r="2.30" fill="#ff8080" stroke="#fff" stroke-width="1.0"/>
<circle cx="667.1" cy="379.9" r="2.30" fill="#ff8080" stroke="#fff" stroke-width="1.0"/>
<circle cx="680.0" cy="379.9" r="2.30" fill="#ff8080" stroke="#fff" stroke-width="1.0"/>
<circle cx="692.9" cy="379.9" r="2.30" fill="#ff8080" stroke="#fff" stroke-width="1.0"/>
<circle cx="705.8" cy="379.9" r="2.30" fill="#ff8080" stroke="#fff" stroke-width="1.0"/>
<circle cx="718.7" cy="379.9" r="2.30" fill="#ff8080" stroke="#fff" stroke-width="1.0"/>
<circle cx="731.6" cy="379.9" r="2.30" fill="#ff8080" stroke="#fff" stroke-width="1.0"/>
<circle cx="260.5" cy="410.6" r="3.3" fill="#3c8d4a"/>
<text x="265.7" y="412.9" class="lg">Buchungen 2025</text>
<circle cx="322.4" cy="410.6" r="3.3" fill="#b00000"/>
<text x="327.6" y="412.9" class="lg">Stornierungen 2025</text>
<circle cx="392.3" cy="410.6" r="3.3" fill="#98d892"/>
<text x="397.5" y="412.9" class="lg">Buchungen 2024</text>
<circle cx="454.5" cy="410.6" r="3.3" fill="#ff8080"/>
<text x="459.7" y="412.9" class="lg">Stornierungen 2024</text>
    <line x1="68" x2="733" y1="479" y2="479" stroke="#ededed" stroke-width="0.7"/>
    <text x="58.5" y="480.700" text-anchor="end" class="yl">5</text>
  </svg>

  <!-- tooltip -->
  <div class="abs tt">
    <div class="abs tthead">KW 25</div>
    <div class="abs ttrow" style="top:25.8px"><div class="abs ttdot" style="background:#3c8d4a"></div><span>Buchungen 2025: <b>90</b></span></div>
    <div class="abs ttrow" style="top:44.9px"><div class="abs ttdot" style="background:#b00000"></div><span>Stornierungen 2025: <b>15</b></span></div>
    <div class="abs ttrow" style="top:64px"><div class="abs ttdot" style="background:#98d892"></div><span>Buchungen 2024: <b>34</b></span></div>
    <div class="abs ttrow" style="top:83.1px"><div class="abs ttdot" style="background:#ff8080"></div><span>Stornierungen 2024: <b>11</b></span></div>
  </div>
  <div class="abs xtt">KW 25</div>
  <svg class="abs" style="left:377px;top:376.500px" width="9" height="4" viewBox="0 0 9 4"><path d="M.8 3.700L4.300.6 7.800 3.700" fill="#eceff1" stroke="#a3b3bc" stroke-width=".8"/></svg>

  <!-- impressum tab -->
  <div class="abs" style="left:40px;top:515px;width:108px;height:13px;background:#f39a42;border-radius:3px 3px 0 0"></div>
  <div class="abs txt" style="left:45.00px;top:517.60px;font-size:7.8px;color:#fde3c8;transform:scaleX(0.9627);transform-origin:0 50%">Impressum | Datenschutz</div>
  <svg class="abs" style="left:133px;top:518px" width="7" height="7" viewBox="0 0 14 14"><circle cx="7" cy="7" r="6.500" fill="#fff"/><rect x="6" y="6" width="2" height="5" fill="#f39a42"/><circle cx="7" cy="3.800" r="1.200" fill="#f39a42"/></svg>

  <!-- footer -->
  <div class="abs footer"></div>
  <svg class="abs" style="left:0;top:525px" width="770" height="5" viewBox="0 0 770 5"><rect x="0" y="1.400" width="770" height="1.750" fill="#f39a42"/></svg>
  <div class="abs txt" style="left:40.00px;top:535.50px;font-size:7.9px;color:#fff;transform:scaleX(0.9927);transform-origin:0 50%">Willkommen</div>
  <div class="abs txt" style="left:40.00px;top:544.50px;font-size:7.9px;color:#fff;transform:scaleX(0.9734);transform-origin:0 50%">Demo Anbieter (Demo Anbieter)</div>

  <svg class="abs" style="left:351.900px;top:534.600px" width="8.600" height="8.600" viewBox="0 0 16 16"><path d="M8 1.2L.8 7.6h2V14.6h3.8V10h2.8v4.6h3.8V7.6h2z" fill="#fff"/></svg>
  <div class="abs txt" style="left:367.40px;top:536.00px;font-size:8.6px;color:#fff;transform:scaleX(0.9799);transform-origin:0 50%">Home</div>
  <svg class="abs" style="left:405.500px;top:534.200px" width="9.700" height="9.700" viewBox="0 0 18 18"><path d="M8 2.600A7 7 0 1 0 15.400 10H8z" fill="#fff"/><path d="M9.800 1v7.200H17A7.200 7.200 0 0 0 9.800 1z" fill="#fff"/></svg>
  <div class="abs txt" style="left:418.60px;top:536.00px;font-size:8.6px;color:#fff;transform:scaleX(1.0245);transform-origin:0 50%">Bericht</div>
  <svg class="abs" style="left:464.200px;top:534.900px" width="9" height="8" viewBox="0 0 18 16"><path d="M6 3V1.500h6V3h4.500c.8 0 1.500.7 1.500 1.500V8H0V4.500C0 3.700.7 3 1.500 3zM7.200 3h3.600v-.4H7.200zM0 9.200h7v1.600h4V9.200h7v4.300c0 .8-.7 1.500-1.500 1.500h-15C.7 15 0 14.300 0 13.500z" fill="#fff"/></svg>
  <div class="abs txt" style="left:476.80px;top:536.00px;font-size:8.6px;color:#fff;transform:scaleX(1.0242);transform-origin:0 50%">Verwaltung</div>
  <svg class="abs" style="left:536.400px;top:535.100px" width="9.200" height="8.100" viewBox="0 0 18 17" preserveAspectRatio="none"><path d="M9.500.4V11H2.400zM10.800 3l4.900 8h-4.900zM.8 12.300h16.400l-2.600 4H3.400z" fill="#fff"/></svg>
  <div class="abs txt" style="left:549.30px;top:536.00px;font-size:8.6px;color:#fff;transform:scaleX(0.9827);transform-origin:0 50%">Boote</div>
  <svg class="abs" style="left:589px;top:535px" width="7" height="9" viewBox="0 0 14 18"><path d="M7 .8a6 6 0 0 0-6 6c0 4 6 10.400 6 10.400s6-6.400 6-10.400a6 6 0 0 0-6-6zm0 3.600a2.400 2.400 0 1 1 0 4.800 2.400 2.400 0 0 1 0-4.800z" fill="#fff" fill-rule="evenodd"/></svg>
  <div class="abs txt" style="left:600.00px;top:536.00px;font-size:8.6px;color:#fff;transform:scaleX(1.0191);transform-origin:0 50%">Hafen</div>
  <svg class="abs" style="left:641.300px;top:534.300px" width="9.200" height="9.200" viewBox="0 0 20 18"><path d="M1 2.800c3-1.500 6-1.500 8.500.3v13C7 14.400 4 14.400 1 15.800zM19 2.800c-3-1.500-6-1.500-8.500.3v13c2.500-1.700 5.500-1.700 8.500-.3z" fill="#fff" fill-opacity=".45" stroke="#fff" stroke-width="1.300"/><path d="M3 5.800c1.600-.6 3.200-.6 4.600 0M3 8.800c1.600-.6 3.200-.6 4.600 0M3 11.800c1.600-.6 3.200-.6 4.600 0M12.400 5.800c1.400-.6 3-.6 4.600 0M12.400 8.800c1.400-.6 3-.6 4.600 0M12.400 11.800c1.400-.6 3-.6 4.600 0" stroke="#fff" stroke-width=".9" fill="none"/></svg>
  <div class="abs txt" style="left:653.70px;top:536.00px;font-size:8.6px;color:#fff;transform:scaleX(0.9674);transform-origin:0 50%">News</div>
  <svg class="abs" style="left:693px;top:534.500px" width="9.200" height="9.200" viewBox="0 0 18 18"><circle cx="9" cy="9" r="7.600" fill="none" stroke="#fff" stroke-width="1.600"/><circle cx="9" cy="7" r="2.800" fill="#fff"/><path d="M3.800 14.200c1-2.600 3-3.400 5.200-3.400s4.200.8 5.200 3.400A7 7 0 0 1 9 16.600a7 7 0 0 1-5.200-2.400z" fill="#fff"/></svg>
  <div class="abs txt" style="left:705.30px;top:536.00px;font-size:8.6px;color:#fff;transform:scaleX(1.0455);transform-origin:0 50%">Profil</div>

  <div class="abs txt" style="left:455.900px;top:524px;width:12.600px;height:12.600px;border-radius:50%;background:#f39a42;color:#fde8d2;font-size:5.600px;font-weight:bold;line-height:12.600px;text-align:center">2</div>
</div>
</body>
</html>
